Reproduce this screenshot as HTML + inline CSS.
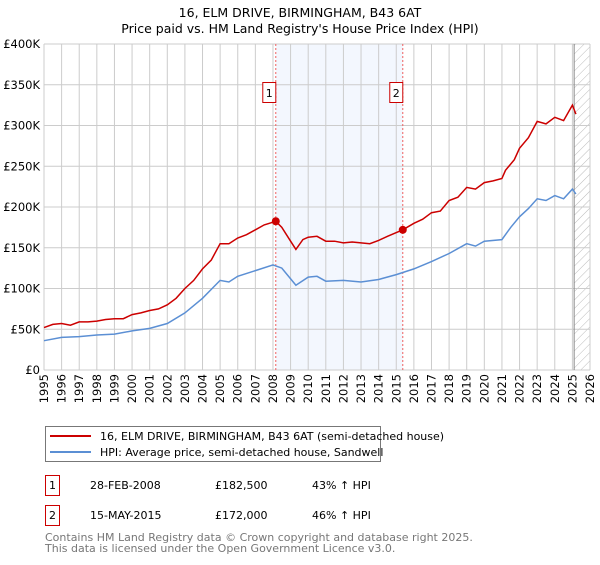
<!DOCTYPE html>
<html><head><meta charset="utf-8"><style>
body{margin:0;background:#fff;font-family:"Liberation Sans","DejaVu Sans",sans-serif;}
svg text{font-family:"DejaVu Sans","Liberation Sans",sans-serif;}
</style></head><body>
<svg id="c" width="600" height="560" viewBox="0 0 600 560" xmlns="http://www.w3.org/2000/svg">
<text x="300" y="17" text-anchor="middle" font-size="12.5" fill="#000">16, ELM DRIVE, BIRMINGHAM, B43 6AT</text>
<text x="300" y="33" text-anchor="middle" font-size="12.5" fill="#000">Price paid vs. HM Land Registry's House Price Index (HPI)</text>
<defs><pattern id="hatch" width="6" height="6" patternUnits="userSpaceOnUse" patternTransform="rotate(45)"><line x1="0" y1="0" x2="0" y2="6" stroke="#bbb" stroke-width="1"/></pattern></defs>
<g id="grid"></g>
<g id="marks"></g>
<g id="legend">
<rect x="45.5" y="426.5" width="335" height="35" fill="#fff" stroke="#777"/>
<line x1="50" y1="436" x2="91" y2="436" stroke="#cc0000" stroke-width="2"/>
<text x="100" y="440" font-size="11">16, ELM DRIVE, BIRMINGHAM, B43 6AT (semi-detached house)</text>
<line x1="50" y1="452" x2="91" y2="452" stroke="#5b8fd4" stroke-width="2"/>
<text x="100" y="456" font-size="11">HPI: Average price, semi-detached house, Sandwell</text>
</g>
<g font-size="11">
<rect x="45.5" y="475.5" width="14" height="20" fill="#fff" stroke="#cc0000"/>
<text x="52.5" y="489" text-anchor="middle">1</text>
<text x="90" y="489">28-FEB-2008</text>
<text x="215" y="489">£182,500</text>
<text x="312" y="489">43% ↑ HPI</text>
<rect x="45.5" y="505.5" width="14" height="20" fill="#fff" stroke="#cc0000"/>
<text x="52.5" y="519" text-anchor="middle">2</text>
<text x="90" y="519">15-MAY-2015</text>
<text x="215" y="519">£172,000</text>
<text x="312" y="519">46% ↑ HPI</text>
</g>
<text x="45" y="541" font-size="11" fill="#777">Contains HM Land Registry data © Crown copyright and database right 2025.</text>
<text x="45" y="552" font-size="11" fill="#777">This data is licensed under the Open Government Licence v3.0.</text>
</svg>
<script>
const priceYears=[1995,1995.5,1996,1996.5,1997,1997.5,1998,1998.5,1999,1999.5,2000,2000.5,2001,2001.5,2002,2002.5,2003,2003.5,2004,2004.5,2005,2005.5,2006,2006.5,2007,2007.5,2008.16,2008.5,2009,2009.3,2009.7,2010,2010.5,2011,2011.5,2012,2012.5,2013,2013.5,2014,2014.5,2015.37,2016,2016.5,2017,2017.5,2018,2018.5,2019,2019.5,2020,2020.5,2021,2021.2,2021.7,2022,2022.5,2023,2023.5,2024,2024.5,2025,2025.2];
const priceValues=[52,56,57,55,59,59,60,62,63,63,68,70,73,75,80,88,100,110,124,135,155,155,162,166,172,178,182.5,175,158,148,160,163,164,158,158,156,157,156,155,159,164,172,180,185,193,195,208,212,224,222,230,232,235,245,258,272,285,305,302,310,306,325,314];
const hpiYears=[1995,1996,1997,1998,1999,2000,2001,2002,2003,2004,2005,2005.5,2006,2007,2008,2008.5,2009.3,2010,2010.5,2011,2012,2013,2014,2015,2016,2017,2018,2019,2019.5,2020,2021,2021.5,2022,2022.5,2023,2023.5,2024,2024.5,2025,2025.2];
const hpiValues=[36,40,41,43,44,48,51,57,70,88,110,108,115,122,129,125,104,114,115,109,110,108,111,117,124,133,143,155,152,158,160,175,188,198,210,208,214,210,222,216];
const yTicks=[0,50,100,150,200,250,300,350,400];
const yTickLabels=["£0","£50K","£100K","£150K","£200K","£250K","£300K","£350K","£400K"];
const xTicks=[1995,1996,1997,1998,1999,2000,2001,2002,2003,2004,2005,2006,2007,2008,2009,2010,2011,2012,2013,2014,2015,2016,2017,2018,2019,2020,2021,2022,2023,2024,2025,2026];
const saleYears=[2008.16,2015.37];
const salePrices=[182.5,172];
const saleLabels=["1","2"];
const X0=44,X1=590,Y0=370,Y1=44;
const xs=y=>X0+(y-1995)/(2026-1995)*(X1-X0);
const ys=v=>Y0-v/400*(Y0-Y1);
const NS="http://www.w3.org/2000/svg";
const grid=document.getElementById('grid'),marks=document.getElementById('marks');
function mk(tag,attrs,parent){const e=document.createElementNS(NS,tag);for(const k in attrs)e.setAttribute(k,attrs[k]);parent.appendChild(e);return e;}
// shaded band between sales
let band=mk('rect',{x:xs(saleYears[0]),y:Y1,width:xs(saleYears[1])-xs(saleYears[0]),height:Y0-Y1,fill:'#eef3fd',opacity:0.7},grid);


// hatched future
let hat=mk('rect',{x:xs(2025.1),y:Y1,width:X1-xs(2025.1),height:Y0-Y1,fill:'url(#hatch)'},grid);


yTicks.forEach((t,i)=>{
 let l=mk('line',{x1:X0,x2:X1,y1:ys(t),y2:ys(t),stroke:'#ccc','stroke-width':1},grid);
 
 
 let tx=mk('text',{x:X0-4,y:ys(t)+4,'text-anchor':'end','font-size':11.5},grid);
 tx.textContent=yTickLabels[i];
 
 
});
xTicks.forEach(t=>{
 let l=mk('line',{x1:xs(t),x2:xs(t),y1:Y1,y2:Y0,stroke:'#ccc','stroke-width':1},grid);
 
 
 let tx=mk('text',{x:0,y:0,'text-anchor':'end','font-size':11.5,transform:`translate(${xs(t)+4},${Y0+4}) rotate(-90)`},grid);
 tx.textContent=t;
 
 
});
let vl=mk('line',{x1:xs(2025.1),x2:xs(2025.1),y1:Y1,y2:Y0,stroke:'#888','stroke-width':1},grid);


saleYears.forEach((s,i)=>{
 let l=mk('line',{x1:xs(s),x2:xs(s),y1:Y1,y2:Y0,stroke:'#f06060','stroke-width':1,'stroke-dasharray':'2,2'},marks);
 
 
 let r=mk('rect',{x:xs(s)-13,y:82.5,width:13,height:20,fill:'#fff',stroke:'#cc0000'},marks);
 
 
 let t=mk('text',{x:xs(s)-6.5,y:97,'text-anchor':'middle','font-size':11},marks);
 t.textContent=saleLabels[i];
 
 
});
function path(xv,yv){return xv.map((x,i)=>(i?'L':'M')+xs(x).toFixed(1)+','+ys(yv[i]).toFixed(1)).join('');}
let hp=mk('path',{d:path(hpiYears,hpiValues),fill:'none',stroke:'#5b8fd4','stroke-width':1.5},marks);


let pp=mk('path',{d:path(priceYears,priceValues),fill:'none',stroke:'#cc0000','stroke-width':1.5},marks);


saleYears.forEach((s,i)=>{
 let c=mk('circle',{cx:xs(s),cy:ys(salePrices[i]),r:4,fill:'#cc0000'},marks);
 
 
});
</script>
</body></html>
